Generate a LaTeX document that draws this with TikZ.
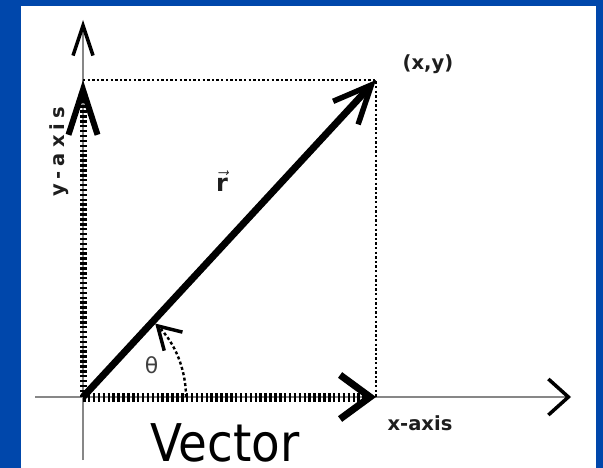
\documentclass[tikz,border=0pt]{standalone}
\usepackage{fontspec}
\setmainfont{DejaVu Sans}
\newfontfamily\bigfont{DejaVu Sans}[FakeStretch=0.9]
\usetikzlibrary{arrows.meta}
\definecolor{bgblue}{RGB}{0,71,171}
\definecolor{axisgray}{RGB}{135,135,135}
\definecolor{lblgray}{RGB}{30,30,30}
\tikzset{
  axisline/.style={draw=axisgray, line width=2pt},
  thindot/.style={draw=black, line width=2.6pt, dash pattern=on 2.4pt off 2.2pt},
  thickdash/.style={draw=black, dash pattern=on 2.5pt off 2.4pt},
  vecline/.style={draw=black, line width=7pt},
  anglearc/.style={draw=black, line width=2.4pt, dash pattern=on 3pt off 2.5pt},
  smalllbl/.style={text=lblgray, font=\fontsize{19.5}{21}\selectfont\bfseries, inner sep=0pt},
}
\begin{document}
\begin{tikzpicture}[x=1pt,y=-1pt]
\useasboundingbox (0,0) rectangle (603,468);
\fill[bgblue] (0,0) rectangle (603,468);
\fill[white] (21,6) rectangle (596,468);

\coordinate (O) at (83,397);
\coordinate (P) at (376,80);
\coordinate (Px) at (376,397);
\coordinate (Py) at (83,80);
\coordinate (XL) at (35,397);
\coordinate (XR) at (571,397);
\coordinate (YB) at (83,460);
\coordinate (YT) at (83,20);

% axes
\draw[axisline, -{Straight Barb[length=20pt,width=36pt,line width=3.5pt,color=black]}] (XL) -- (XR);
\draw[axisline, -{Straight Barb[length=30pt,width=20pt,line width=3.5pt,color=black]}] (YB) -- (YT);

% projection lines
\draw[thindot] (Py) -- (P) -- (Px);

% components
\draw[thickdash, line width=7pt, -{Straight Barb[length=45pt,width=29pt,line width=6pt]}] (O) -- (Py);
\draw[thickdash, line width=9pt, -{Straight Barb[length=30pt,width=44pt,line width=7pt]}] (O) -- (Px);

% vector r
\draw[vecline, -{Straight Barb[length=38pt,width=34pt,line width=5.5pt]}] (O) -- (P);

% angle arc
\draw[anglearc, -{Straight Barb[length=22pt,width=26pt,line width=3.5pt]}] (O) ++(103,0) arc[start angle=0, end angle=-45.5, radius=103];

% labels
\node[smalllbl] (lxy) at (428,64) {(x,y)};
\node[smalllbl] (lx) at (420,423) {x-axis};
\node[smalllbl, rotate=90] (ly) at (59.5,152) {y\hspace{5pt}-\hspace{5pt}a\hspace{5pt}x\hspace{5pt}i\hspace{5pt}s};
\node[text=lblgray, inner sep=0pt, font=\fontsize{24}{26}\selectfont] (lr) at (222,181) {$\vec{\textbf{r}}$};
\node[text=black!75, inner sep=0pt, font=\fontsize{22}{24}\selectfont] (lt) at (151.5,365) {θ};
\node[inner sep=0pt, anchor=base west, font=\bigfont\fontsize{52}{56}\selectfont] (lv) at (150,461) {Vector};
\end{tikzpicture}
\end{document}
